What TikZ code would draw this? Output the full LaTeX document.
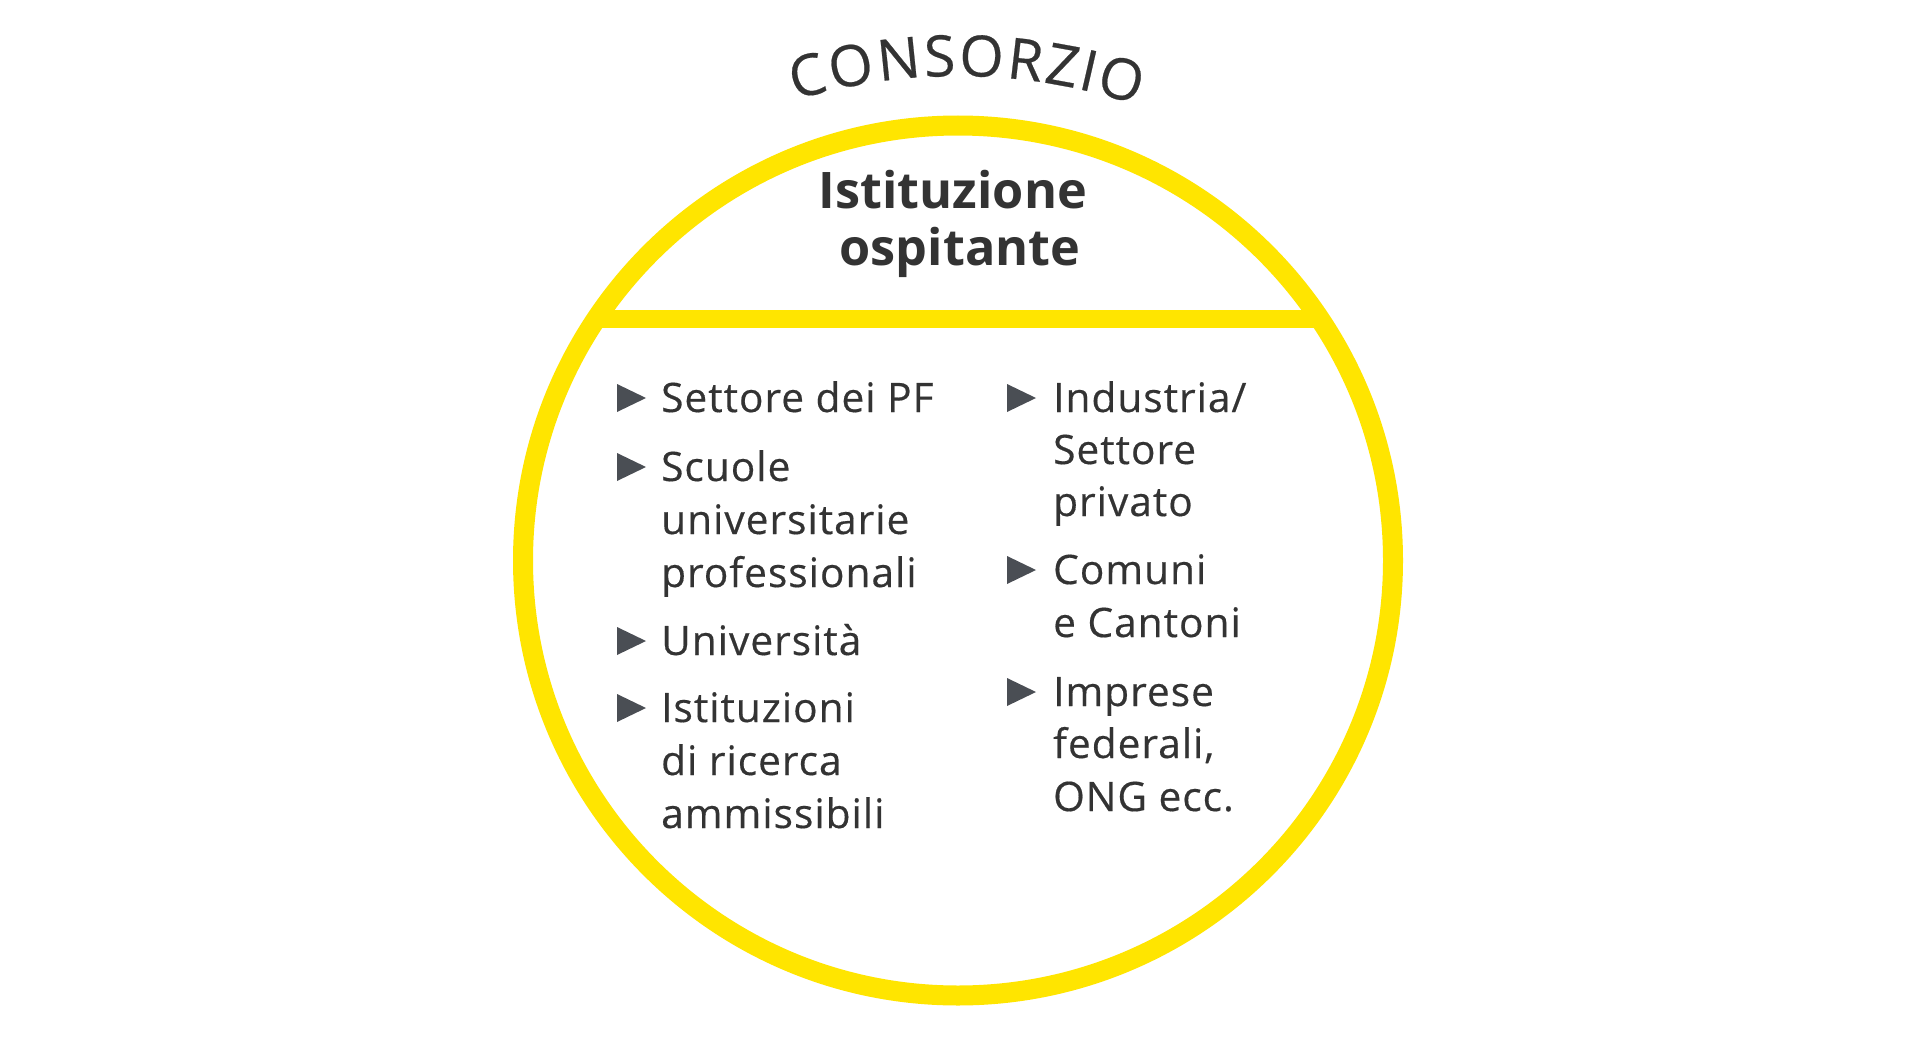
\documentclass[tikz,border=0pt]{standalone}
\usepackage{fontspec}
\setmainfont{Open Sans}
\newfontfamily\bodyfnt[LetterSpace=2.5,FakeBold=0.4]{Open Sans}
\newfontfamily\titlefnt[FakeBold=0.4]{Open Sans}
\usetikzlibrary{decorations.text}
\definecolor{ylw}{RGB}{255,229,0}
\definecolor{txt}{RGB}{51,51,51}
\definecolor{tri}{RGB}{74,78,84}
\begin{document}
\begin{tikzpicture}[x=1pt,y=1pt,
  item/.style={anchor=base west, inner sep=0pt, text=txt, font=\bodyfnt\fontsize{40.6}{48}\selectfont},
  head/.style={anchor=base, inner sep=0pt, text=txt, font=\bfseries\fontsize{50.4}{57}\selectfont},
  bullet/.style={fill=tri}]
\fill[white] (0,0) rectangle (1919,-1038);
\useasboundingbox (0,0) rectangle (1919,-1038);
\coordinate (c) at (958,-560.5);
\draw[ylw, line width=20pt] (c) circle[radius=435pt];
\begin{scope}
\clip (c) circle[radius=436pt];
\draw[ylw, line width=18pt] (400,-319) -- (1500,-319);
\end{scope}
% arc title
\path[decorate, decoration={text effects along path, text={CONSORZIO},
  text effects/.cd, text along path, fit text to path,
  characters={text=txt, inner sep=0pt, font=\titlefnt\fontsize{57}{60}\selectfont}}]
  (958,-640) ++(106.8:564pt) arc[start angle=106.8, end angle=71.5, radius=564pt];
% heading
\node[head] (h1) at (953,-208) {Istituzione};
\node[head] (h2) at (960,-265) {ospitante};
% bullets
\foreach \x/\b in {617/412, 617/481, 617/655, 617/722, 1007/412, 1007/584, 1007/706}{
  \fill[bullet] (\x,-\b) -- (\x,-\b+28) -- (\x+29,-\b+14) -- cycle;
}
% left column
\node[item] (l1) at (661,-412) {Settore dei PF};
\node[item] (l2a) at (661,-481) {Scuole};
\node[item] (l2b) at (661,-534) {universitarie};
\node[item] (l2c) at (661,-587) {professionali};
\node[item] (l3) at (661,-655) {Università};
\node[item] (l4a) at (661,-722) {Istituzioni};
\node[item] (l4b) at (661,-775) {di ricerca};
\node[item] (l4c) at (661,-828) {ammissibili};
% right column
\node[item] (r1a) at (1053,-412) {Industria/};
\node[item] (r1b) at (1053,-464) {Settore};
\node[item] (r1c) at (1053,-516) {privato};
\node[item] (r2a) at (1053,-584) {Comuni};
\node[item] (r2b) at (1053,-637) {e Cantoni};
\node[item] (r3a) at (1053,-706) {Imprese};
\node[item] (r3b) at (1053,-758) {federali,};
\node[item] (r3c) at (1053,-811) {ONG ecc.};
\end{tikzpicture}
\end{document}
